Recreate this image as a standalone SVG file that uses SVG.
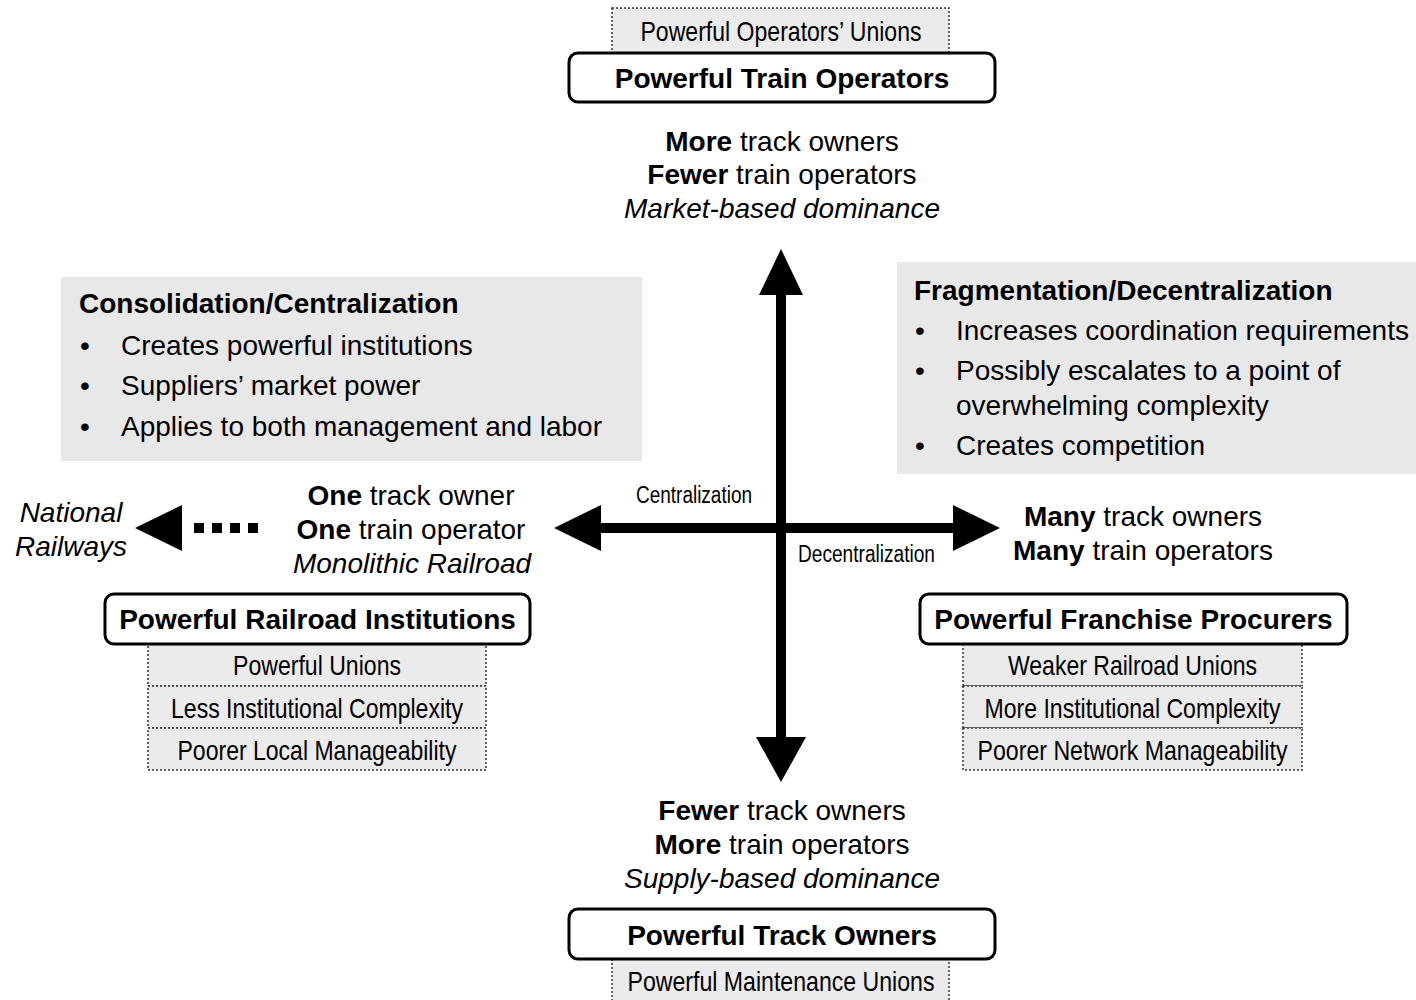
<svg xmlns="http://www.w3.org/2000/svg" width="1416" height="1000" viewBox="0 0 1416 1000">
<style>
.t{font-family:"Liberation Sans",Arial,sans-serif;font-size:28px;fill:#000}
.b{font-weight:bold}
.i{font-style:italic}
.n{font-family:"Liberation Sans Narrow","Arial Narrow","Liberation Sans",sans-serif;font-size:28px;fill:#000}
.s{font-family:"Liberation Sans Narrow","Arial Narrow","Liberation Sans",sans-serif;font-size:23px;fill:#000}
.m{text-anchor:middle}
.main{fill:#fff;stroke:#000;stroke-width:3}
.sub{fill:#ebebeb;stroke:#333;stroke-width:1.5;stroke-dasharray:2 2}
.gray{fill:#e8e8e8}
.arr{fill:#000}
</style>
<rect width="1416" height="1000" fill="#fff"/>

<g id="box-consolidation">
<rect class="gray" x="61" y="277" width="581" height="184"/>
<text class="t b" x="79" y="313" font-size="27">Consolidation/Centralization</text>
<text class="t" x="80" y="355" font-size="27">•</text><text class="t" x="121" y="355" font-size="27">Creates powerful institutions</text>
<text class="t" x="80" y="395" font-size="27">•</text><text class="t" x="121" y="395" font-size="27">Suppliers’ market power</text>
<text class="t" x="80" y="436" font-size="27">•</text><text class="t" x="121" y="436" font-size="27">Applies to both management and labor</text>
</g>

<g id="box-fragmentation">
<rect class="gray" x="897" y="262" width="519" height="212"/>
<text class="t b" x="914" y="300" font-size="27">Fragmentation/Decentralization</text>
<text class="t" x="915" y="340" font-size="27">•</text><text class="t" x="956" y="340" font-size="27">Increases coordination requirements</text>
<text class="t" x="915" y="380" font-size="27">•</text><text class="t" x="956" y="380" font-size="27">Possibly escalates to a point of</text>
<text class="t" x="956" y="415" font-size="27">overwhelming complexity</text>
<text class="t" x="915" y="455" font-size="27">•</text><text class="t" x="956" y="455" font-size="27">Creates competition</text>
</g>

<g id="connectors">
<rect class="arr" x="776" y="293" width="10" height="446"/>
<polygon class="arr" points="781,249 759,295 803,295"/>
<polygon class="arr" points="781,782 756,737 806,737"/>
<rect class="arr" x="599" y="523" width="356" height="10"/>
<polygon class="arr" points="554,528 601,505 601,551"/>
<polygon class="arr" points="1000,528 953,505 953,551"/>
<line x1="258" y1="528" x2="194" y2="528" stroke="#000" stroke-width="10" stroke-dasharray="10 8"/>
<polygon class="arr" points="135,528 182,505 182,551"/>
</g>

<g id="label-centralization"><text class="s" x="636" y="503" textLength="116" lengthAdjust="spacingAndGlyphs">Centralization</text></g>
<g id="label-decentralization"><text class="s" x="798" y="562" textLength="137" lengthAdjust="spacingAndGlyphs">Decentralization</text></g>

<g id="node-top">
<rect class="sub" x="612" y="8" width="337" height="46"/>
<text class="n m" x="781" y="41" textLength="281" lengthAdjust="spacingAndGlyphs">Powerful Operators’ Unions</text>
<rect class="main" x="569" y="53" width="426" height="49" rx="9"/>
<text class="t b m" x="782" y="88">Powerful Train Operators</text>
<text class="t m" x="782" y="151"><tspan class="b">More</tspan> track owners</text>
<text class="t m" x="782" y="184"><tspan class="b">Fewer</tspan> train operators</text>
<text class="t i m" x="782" y="218">Market-based dominance</text>
</g>

<g id="node-left">
<text class="t m" x="411" y="505"><tspan class="b">One</tspan> track owner</text>
<text class="t m" x="411" y="539"><tspan class="b">One</tspan> train operator</text>
<text class="t i m" x="412" y="573">Monolithic Railroad</text>
<rect class="sub" x="148" y="644" width="338" height="42"/>
<rect class="sub" x="148" y="686" width="338" height="42"/>
<rect class="sub" x="148" y="728" width="338" height="42"/>
<text class="n m" x="317" y="675" textLength="168" lengthAdjust="spacingAndGlyphs">Powerful Unions</text>
<text class="n m" x="317" y="718" textLength="292" lengthAdjust="spacingAndGlyphs">Less Institutional Complexity</text>
<text class="n m" x="317" y="760" textLength="279" lengthAdjust="spacingAndGlyphs">Poorer Local Manageability</text>
<rect class="main" x="105" y="594" width="425" height="50" rx="9"/>
<text class="t b m" x="317.5" y="629">Powerful Railroad Institutions</text>
</g>

<g id="node-national">
<text class="t i m" x="71" y="522">National</text>
<text class="t i m" x="71" y="556">Railways</text>
</g>

<g id="node-right">
<text class="t m" x="1143" y="526"><tspan class="b">Many</tspan> track owners</text>
<text class="t m" x="1143" y="560"><tspan class="b">Many</tspan> train operators</text>
<rect class="sub" x="963" y="644" width="339" height="42"/>
<rect class="sub" x="963" y="686" width="339" height="42"/>
<rect class="sub" x="963" y="728" width="339" height="42"/>
<text class="n m" x="1132.5" y="675" textLength="249" lengthAdjust="spacingAndGlyphs">Weaker Railroad Unions</text>
<text class="n m" x="1132.5" y="718" textLength="296" lengthAdjust="spacingAndGlyphs">More Institutional Complexity</text>
<text class="n m" x="1132.5" y="760" textLength="310" lengthAdjust="spacingAndGlyphs">Poorer Network Manageability</text>
<rect class="main" x="920" y="594" width="427" height="50" rx="9"/>
<text class="t b m" x="1133.5" y="629">Powerful Franchise Procurers</text>
</g>

<g id="node-bottom">
<text class="t m" x="782" y="820"><tspan class="b">Fewer</tspan> track owners</text>
<text class="t m" x="782" y="854"><tspan class="b">More</tspan> train operators</text>
<text class="t i m" x="782" y="888">Supply-based dominance</text>
<rect class="sub" x="612" y="959" width="337" height="50"/>
<text class="n m" x="781" y="991" textLength="307" lengthAdjust="spacingAndGlyphs">Powerful Maintenance Unions</text>
<rect class="main" x="569" y="909" width="426" height="50" rx="9"/>
<text class="t b m" x="782" y="945">Powerful Track Owners</text>
</g>
</svg>
